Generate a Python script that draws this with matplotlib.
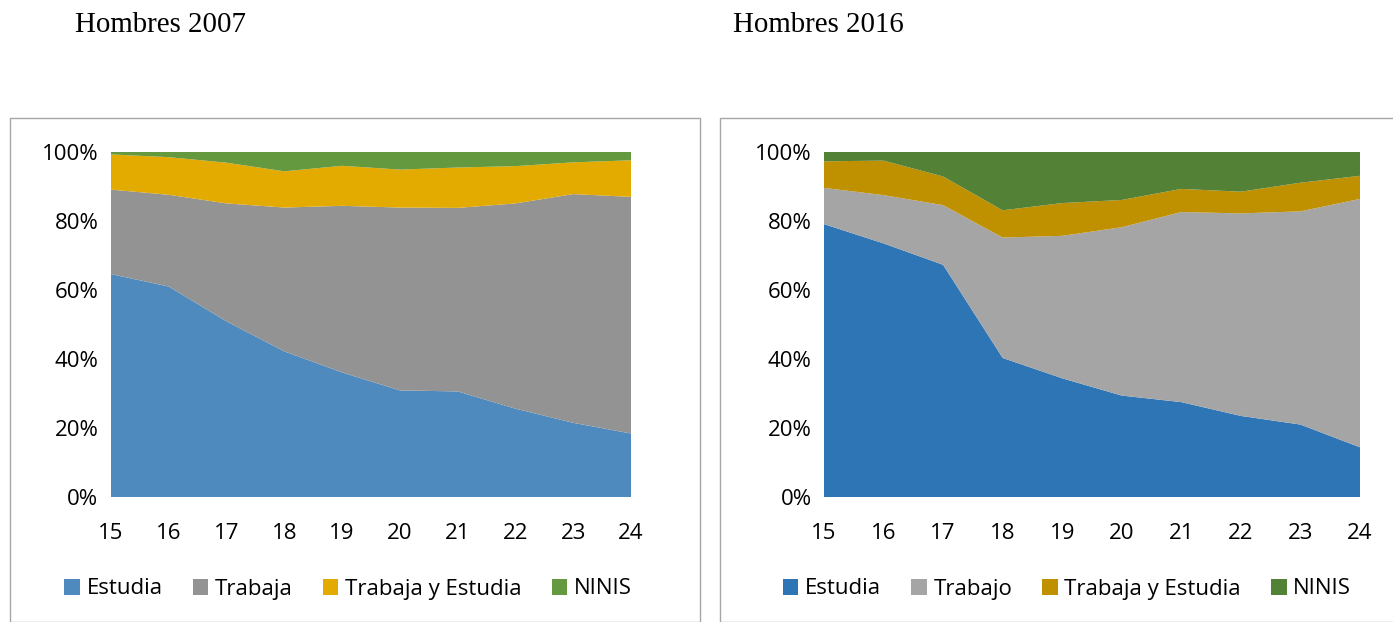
import matplotlib
matplotlib.use("Agg")
import matplotlib.pyplot as plt
from matplotlib.patches import Rectangle
from matplotlib.ticker import PercentFormatter

ages = [15, 16, 17, 18, 19, 20, 21, 22, 23, 24]

# 2007 (cumulative boundaries, in %)
est_2007 = [64.6, 61.0, 50.9, 42.2, 36.1, 30.9, 30.6, 25.6, 21.5, 18.4]
trab_top_2007 = [89.1, 87.6, 85.1, 83.9, 84.4, 83.9, 83.8, 85.1, 87.8, 87.0]
tye_top_2007 = [99.3, 98.5, 96.9, 94.4, 96.0, 94.9, 95.5, 95.9, 97.0, 97.6]

# 2016
est_2016 = [79.1, 73.5, 67.3, 40.3, 34.4, 29.4, 27.5, 23.5, 21.0, 14.4]
trab_top_2016 = [89.6, 87.5, 84.6, 75.2, 75.7, 78.2, 82.6, 82.2, 82.8, 86.4]
tye_top_2016 = [97.3, 97.5, 92.9, 83.1, 85.2, 86.1, 89.3, 88.5, 91.1, 93.1]

labels_2007 = ["Estudia", "Trabaja", "Trabaja y Estudia", "NINIS"]
labels_2016 = ["Estudia", "Trabajo", "Trabaja y Estudia", "NINIS"]
colors_2007 = ["#4f8abe", "#939393", "#e3aa00", "#64993f"]
colors_2016 = ["#2e75b6", "#a5a5a5", "#bf9000", "#538135"]

yticks = [0, 20, 40, 60, 80, 100]

W, H = 1393, 622
fig = plt.figure(figsize=(W / 100, H / 100), dpi=100)
TICKFONT = "Open Sans"
FS = 16


def series(est, trab_top, tye_top):
    trab = [t - e for t, e in zip(trab_top, est)]
    tye = [a - t for a, t in zip(tye_top, trab_top)]
    nin = [100 - a for a in tye_top]
    return [est, trab, tye, nin]


def panel(rect, data, colors, labels, title, title_x, box, leg_x):
    l, b, r, t = rect
    ax = fig.add_axes([l / W, 1 - b / H, (r - l) / W, (b - t) / H])
    ax.stackplot(ages, *data, colors=colors, labels=labels, linewidth=0)
    ax.set_xlim(ages[0], ages[-1])
    ax.set_ylim(0, 100)
    ax.set_xticks(ages)
    ax.set_yticks(yticks)
    ax.yaxis.set_major_formatter(PercentFormatter(decimals=0))
    for s in ax.spines.values():
        s.set_visible(False)
    ax.tick_params(length=0, labelsize=FS)
    ax.tick_params(axis="x", pad=18.5)
    ax.tick_params(axis="y", pad=9)
    for lab in ax.get_xticklabels() + ax.get_yticklabels():
        lab.set_fontfamily(TICKFONT)
        lab.set_color("#000000")
    bx0, by0, bx1 = box
    fig.patches.append(Rectangle((bx0 / W, 0), (bx1 - bx0) / W, 1 - by0 / H,
                                 transform=fig.transFigure, fill=False,
                                 edgecolor="#a6a6a6", linewidth=1.0))
    fig.text(title_x / W, 1 - 25 / H, title, family="Liberation Serif",
             fontsize=20.8, va="center", ha="left")
    handles, labs = ax.get_legend_handles_labels()
    fig.legend(handles, labs, loc="center", bbox_to_anchor=(leg_x / W, 1 - 589 / H),
               ncol=4, frameon=False, handlelength=0.7, handleheight=0.7,
               handletextpad=0.3, columnspacing=1.35,
               prop={"family": TICKFONT, "size": FS})


panel((111, 497, 631, 152), series(est_2007, trab_top_2007, tye_top_2007),
      colors_2007, labels_2007, "Hombres 2007", 75, (10, 118, 700), 348)
panel((824, 497, 1360, 152), series(est_2016, trab_top_2016, tye_top_2016),
      colors_2016, labels_2016, "Hombres 2016", 733, (720, 118, 1400), 1067)

fig.savefig("out.png", dpi=100)
